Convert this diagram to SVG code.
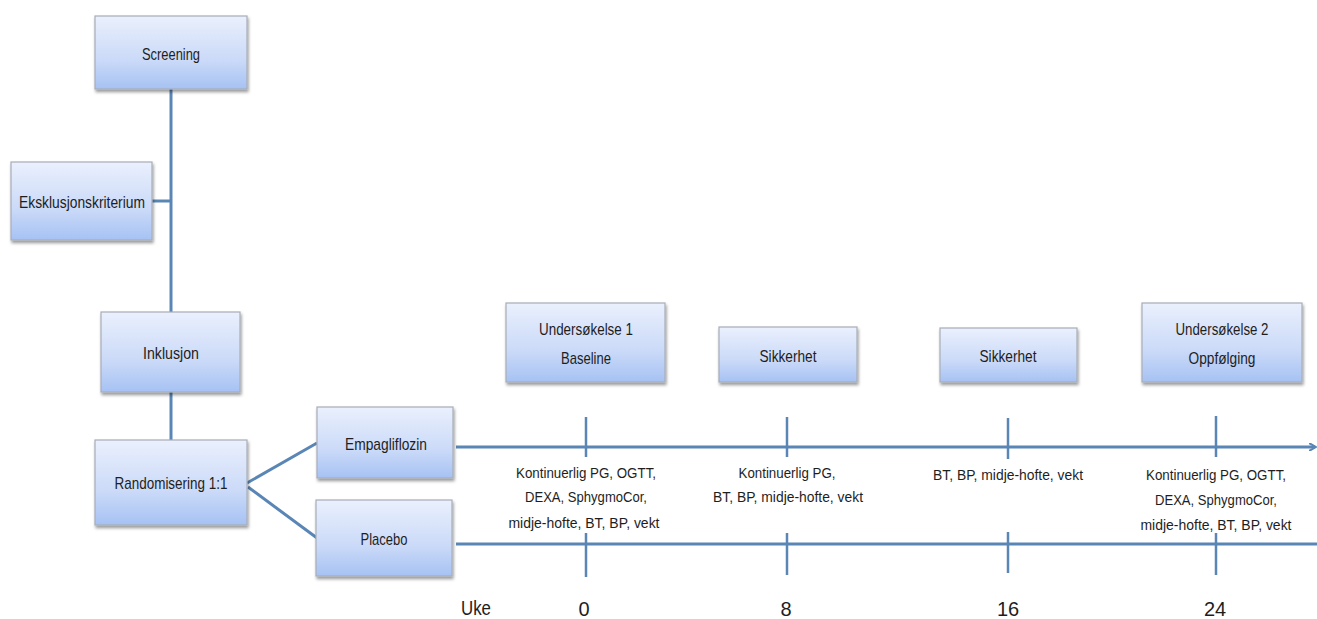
<svg xmlns="http://www.w3.org/2000/svg" width="1317" height="619" viewBox="0 0 1317 619">
<style>
.box{fill:url(#g);stroke:#a7adb8;stroke-width:1.2;filter:url(#sh)}
.t{font-family:"Liberation Sans",Arial,sans-serif;font-size:17px;fill:#1e1e1e;text-anchor:middle}
.s{font-family:"Liberation Sans",Arial,sans-serif;font-size:15.5px;fill:#1e1e1e;text-anchor:middle}
.w{font-family:"Liberation Sans",Arial,sans-serif;font-size:20px;fill:#1e1e1e;text-anchor:middle}
.ln{stroke:#5a86b6;stroke-width:3;fill:none}
.tk{stroke:#5a86b6;stroke-width:2.5;fill:none}
</style>
<defs>
<linearGradient id="g" x1="0" y1="0" x2="0" y2="1">
<stop offset="0" stop-color="#eaf0fd"/>
<stop offset="0.6" stop-color="#cbdaf8"/>
<stop offset="1" stop-color="#a6c2f3"/>
</linearGradient>
<filter id="sh" x="-10%" y="-10%" width="125%" height="130%">
<feDropShadow dx="1" dy="2.5" stdDeviation="1.5" flood-color="#000" flood-opacity="0.4"/>
</filter>
<marker id="ar" markerWidth="8" markerHeight="8" refX="6" refY="4" orient="auto" markerUnits="userSpaceOnUse">
<path d="M0,0 L7,4 L0,8" fill="none" stroke="#5a86b6" stroke-width="2"/>
</marker>
</defs>
<rect width="1317" height="619" fill="#fff"/>
<g id="connectors">
<line class="ln" x1="171" y1="89" x2="171" y2="312"/>
<line class="ln" x1="152" y1="201" x2="171" y2="201"/>
<line class="ln" x1="171" y1="392" x2="171" y2="440"/>
<line class="ln" x1="247" y1="483" x2="317" y2="443"/>
<line class="ln" x1="248" y1="487" x2="317" y2="538"/>
<line class="ln" x1="456" y1="447" x2="1315" y2="447" marker-end="url(#ar)"/>
<line class="ln" x1="456" y1="544" x2="1317" y2="544"/>
<line class="tk" x1="586" y1="417" x2="586" y2="457"/>
<line class="tk" x1="586" y1="533" x2="586" y2="577"/>
<line class="tk" x1="787" y1="417" x2="787" y2="457"/>
<line class="tk" x1="787" y1="533" x2="787" y2="575"/>
<line class="tk" x1="1008" y1="418" x2="1008" y2="459"/>
<line class="tk" x1="1008" y1="532" x2="1008" y2="573"/>
<line class="tk" x1="1216" y1="416" x2="1216" y2="457"/>
<line class="tk" x1="1216" y1="533" x2="1216" y2="575"/>
</g>
<g id="screening"><rect class="box" x="95" y="16" width="152" height="73"/><text class="t" x="171" y="60" textLength="58" lengthAdjust="spacingAndGlyphs">Screening</text></g>
<g id="eksklusjon"><rect class="box" x="11" y="162" width="141" height="78"/><text class="t" x="82" y="208" textLength="126" lengthAdjust="spacingAndGlyphs">Eksklusjonskriterium</text></g>
<g id="inklusjon"><rect class="box" x="101" y="312" width="139" height="80"/><text class="t" x="171" y="359" textLength="56" lengthAdjust="spacingAndGlyphs">Inklusjon</text></g>
<g id="randomisering"><rect class="box" x="95" y="440" width="152" height="85"/><text class="t" x="171" y="489" textLength="113" lengthAdjust="spacingAndGlyphs">Randomisering 1:1</text></g>
<g id="empagliflozin"><rect class="box" x="317" y="407" width="136" height="71"/><text class="t" x="386" y="450" textLength="82" lengthAdjust="spacingAndGlyphs">Empagliflozin</text></g>
<g id="placebo"><rect class="box" x="316" y="500" width="136" height="76"/><text class="t" x="384" y="545" textLength="47" lengthAdjust="spacingAndGlyphs">Placebo</text></g>
<g id="undersokelse1"><rect class="box" x="506" y="303" width="159" height="79"/><text class="t" x="586" y="335" textLength="94" lengthAdjust="spacingAndGlyphs">Undersøkelse 1</text><text class="t" x="586" y="364" textLength="50" lengthAdjust="spacingAndGlyphs">Baseline</text></g>
<g id="sikkerhet1"><rect class="box" x="719" y="327" width="138" height="55"/><text class="t" x="788" y="362" textLength="57" lengthAdjust="spacingAndGlyphs">Sikkerhet</text></g>
<g id="sikkerhet2"><rect class="box" x="940" y="328" width="137" height="54"/><text class="t" x="1008" y="362" textLength="57" lengthAdjust="spacingAndGlyphs">Sikkerhet</text></g>
<g id="undersokelse2"><rect class="box" x="1142" y="303" width="160" height="79"/><text class="t" x="1222" y="335" textLength="93" lengthAdjust="spacingAndGlyphs">Undersøkelse 2</text><text class="t" x="1222" y="364" textLength="67" lengthAdjust="spacingAndGlyphs">Oppfølging</text></g>
<g id="labels">
<text class="s" x="586" y="478" textLength="140" lengthAdjust="spacingAndGlyphs">Kontinuerlig PG, OGTT,</text>
<text class="s" x="586" y="502" textLength="122" lengthAdjust="spacingAndGlyphs">DEXA, SphygmoCor,</text>
<text class="s" x="584" y="528" textLength="151" lengthAdjust="spacingAndGlyphs">midje-hofte, BT, BP, vekt</text>
<text class="s" x="787" y="478" textLength="97" lengthAdjust="spacingAndGlyphs">Kontinuerlig PG,</text>
<text class="s" x="788" y="502" textLength="150" lengthAdjust="spacingAndGlyphs">BT, BP, midje-hofte, vekt</text>
<text class="s" x="1008" y="480" textLength="150" lengthAdjust="spacingAndGlyphs">BT, BP, midje-hofte, vekt</text>
<text class="s" x="1216" y="480" textLength="140" lengthAdjust="spacingAndGlyphs">Kontinuerlig PG, OGTT,</text>
<text class="s" x="1216" y="505" textLength="122" lengthAdjust="spacingAndGlyphs">DEXA, SphygmoCor,</text>
<text class="s" x="1216" y="530" textLength="151" lengthAdjust="spacingAndGlyphs">midje-hofte, BT, BP, vekt</text>
<text class="w" x="476" y="615" textLength="30" lengthAdjust="spacingAndGlyphs">Uke</text>
<text class="w" x="584" y="616">0</text>
<text class="w" x="786" y="616">8</text>
<text class="w" x="1008" y="616">16</text>
<text class="w" x="1215" y="616">24</text>
</g>
</svg>
